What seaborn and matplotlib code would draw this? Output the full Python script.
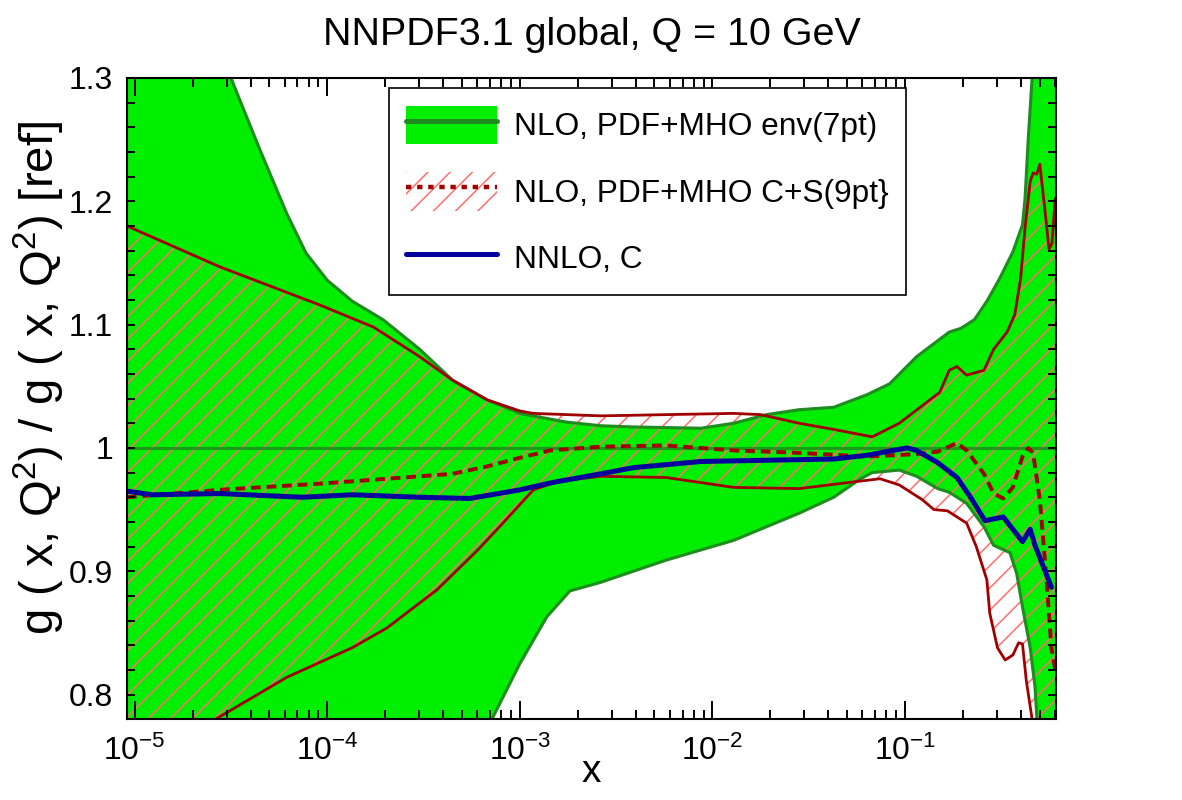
import numpy as np
import matplotlib
matplotlib.use("Agg")
import matplotlib.pyplot as plt
import seaborn as sns
from matplotlib.patches import Patch
from matplotlib.lines import Line2D
from matplotlib.ticker import LogLocator, MultipleLocator, FuncFormatter, NullFormatter

# values (x given as log10(x))
# NLO, PDF+MHO env(7pt) band
lx_env_up = [-5.04, -4.80, -4.60, -4.50, -4.35, -4.21, -4.11, -4.00, -3.87, -3.71, -3.52,
             -3.35, -3.17, -3.00, -2.76, -2.58, -2.41, -2.06, -1.89, -1.72, -1.55, -1.37,
             -1.20, -1.08, -0.94, -0.77, -0.71, -0.64, -0.575, -0.51, -0.44, -0.39, -0.377,
             -0.36, -0.34, -0.30, -0.216]
env_up = [1.50, 1.42, 1.33, 1.30, 1.242, 1.190, 1.158, 1.136, 1.119, 1.104, 1.080,
          1.055, 1.039, 1.028, 1.021, 1.018, 1.017, 1.016, 1.020, 1.027, 1.031, 1.033,
          1.043, 1.052, 1.074, 1.094, 1.097, 1.104, 1.119, 1.137, 1.159, 1.181, 1.202,
          1.251, 1.30, 1.40, 1.50]
lx_env_lo = [-5.04, -4.00, -3.40, -3.145, -3.00, -2.86, -2.74, -2.58, -2.24, -1.89, -1.55,
             -1.37, -1.23, -1.17, -1.03, -0.94, -0.83, -0.77, -0.68, -0.59, -0.54, -0.455,
             -0.42, -0.39, -0.35, -0.325, -0.315, -0.28, -0.216]
env_lo = [0.50, 0.55, 0.70, 0.780, 0.825, 0.863, 0.884, 0.891, 0.909, 0.925, 0.947,
          0.960, 0.975, 0.980, 0.982, 0.977, 0.967, 0.964, 0.955, 0.936, 0.921, 0.915,
          0.898, 0.871, 0.838, 0.806, 0.780, 0.70, 0.60]

# NLO, PDF+MHO C+S(9pt) band and central value
lx_cs_up = [-5.04, -4.56, -4.04, -3.76, -3.52, -3.35, -3.17, -3.00, -2.93, -2.58, -2.24,
            -1.89, -1.75, -1.55, -1.37, -1.17, -1.03, -0.82, -0.77, -0.73, -0.68, -0.59,
            -0.54, -0.47, -0.43, -0.40, -0.377, -0.35, -0.335, -0.316, -0.30, -0.273,
            -0.252, -0.237, -0.22]
cs_up = [1.180, 1.147, 1.116, 1.098, 1.074, 1.055, 1.039, 1.030, 1.028, 1.026, 1.027,
         1.028, 1.027, 1.020, 1.015, 1.009, 1.020, 1.045, 1.063, 1.066, 1.059, 1.063,
         1.080, 1.094, 1.108, 1.137, 1.178, 1.216, 1.223, 1.222, 1.230, 1.192,
         1.161, 1.166, 1.202]
lx_cs_lo = [-5.04, -4.58, -4.21, -3.87, -3.69, -3.43, -3.22, -3.10, -2.93, -2.80, -2.58,
            -2.24, -1.89, -1.55, -1.29, -1.13, -1.03, -0.91, -0.85, -0.78, -0.73, -0.68,
            -0.63, -0.575, -0.56, -0.52, -0.48, -0.44, -0.41, -0.39, -0.37, -0.34, -0.30,
            -0.22]
cs_lo = [0.738, 0.780, 0.814, 0.838, 0.854, 0.885, 0.917, 0.937, 0.966, 0.973, 0.977,
         0.976, 0.968, 0.967, 0.972, 0.975, 0.970, 0.958, 0.950, 0.949, 0.944, 0.939,
         0.920, 0.893, 0.866, 0.838, 0.828, 0.832, 0.842, 0.841, 0.811, 0.780, 0.740,
         0.700]
lx_cs_cv = [-5.04, -4.56, -4.04, -3.69, -3.35, -3.17, -3.00, -2.84, -2.58, -2.24, -1.89,
            -1.55, -1.20, -0.94, -0.83, -0.73, -0.68, -0.59, -0.54, -0.49, -0.44, -0.39,
            -0.36, -0.335, -0.30, -0.265, -0.24, -0.22]
cs_cv = [0.960, 0.966, 0.971, 0.975, 0.979, 0.985, 0.992, 0.998, 1.001, 1.002, 0.998,
         0.996, 0.993, 0.995, 0.997, 1.004, 0.998, 0.979, 0.963, 0.959, 0.968, 0.993,
         1.000, 0.996, 0.958, 0.893, 0.838, 0.820]

# NNLO, C central value
lx_nnlo = [-5.04, -4.91, -4.56, -4.13, -3.87, -3.52, -3.26, -3.00, -2.83, -2.58, -2.41,
           -2.06, -1.72, -1.37, -1.20, -0.99, -0.94, -0.83, -0.73, -0.66, -0.585, -0.49,
           -0.39, -0.35, -0.325, -0.24]
nnlo = [0.965, 0.962, 0.963, 0.960, 0.962, 0.960, 0.959, 0.966, 0.972, 0.979, 0.984,
        0.989, 0.990, 0.991, 0.994, 1.000, 0.998, 0.988, 0.976, 0.960, 0.941, 0.944,
        0.924, 0.934, 0.921, 0.887]

labels = ["NLO, PDF+MHO env(7pt)", "NLO, PDF+MHO C+S(9pt}", "NNLO, C"]

GREEN = "#00ee00"
GREEN_DARK = "#1e8c1e"
RED = "#a00000"
HATCH = "#ff6e6e"
BLUE = "#00009c"

sns.set_theme(style="ticks")
plt.rcParams["font.family"] = ["Liberation Sans", "DejaVu Sans"]
plt.rcParams["mathtext.default"] = "regular"
plt.rcParams["hatch.linewidth"] = 0.55
plt.rcParams["axes.axisbelow"] = False
plt.rcParams["text.color"] = "black"


def xs(lx):
    return np.power(10.0, np.asarray(lx))


fig, ax = plt.subplots(figsize=(5.91, 4.0), dpi=200)
fig.subplots_adjust(left=0.1074, right=0.8934, bottom=0.101, top=0.9025)
ax.set_xscale("log")

# green envelope band
ax.fill(np.concatenate([xs(lx_env_up), xs(lx_env_lo)[::-1]]),
        np.concatenate([env_up, env_lo[::-1]]),
        facecolor=GREEN, edgecolor="none", zorder=1)
# hatched C+S band
ax.fill(np.concatenate([xs(lx_cs_up), xs(lx_cs_lo)[::-1]]),
        np.concatenate([cs_up, cs_lo[::-1]]),
        facecolor="none", edgecolor=HATCH, hatch="///", linewidth=0, zorder=2)

ax.plot(xs(lx_env_up), env_up, color=GREEN_DARK, lw=1.1, zorder=3)
ax.plot(xs(lx_env_lo), env_lo, color=GREEN_DARK, lw=1.1, zorder=3)
ax.axhline(1.0, color=GREEN_DARK, lw=1.1, alpha=0.85, zorder=3)

ax.plot(xs(lx_cs_up), cs_up, color=RED, lw=1.0, zorder=4)
ax.plot(xs(lx_cs_lo), cs_lo, color=RED, lw=1.0, zorder=4)
sns.lineplot(x=xs(lx_cs_cv), y=cs_cv, ax=ax, color=RED, linewidth=1.4,
             linestyle=(0, (2.5, 1.5)), sort=False, estimator=None, zorder=5)
sns.lineplot(x=xs(lx_nnlo), y=nnlo, ax=ax, color=BLUE, linewidth=1.8,
             sort=False, estimator=None, zorder=6)

ax.set_xlim(10 ** -5.04, 10 ** -0.216)
ax.set_ylim(0.78, 1.3)

ax.xaxis.set_major_locator(LogLocator(base=10, numticks=10))
ax.xaxis.set_minor_locator(LogLocator(base=10, subs=np.arange(2, 10), numticks=20))
ax.xaxis.set_minor_formatter(NullFormatter())
ax.yaxis.set_major_locator(MultipleLocator(0.1))
ax.yaxis.set_minor_locator(MultipleLocator(0.02))
ax.yaxis.set_major_formatter(FuncFormatter(lambda v, p: f"{v:g}"))

ax.tick_params(which="both", direction="in", top=True, right=True, bottom=True, left=True,
               width=0.7, color="black", labelcolor="black")
ax.tick_params(axis="x", which="major", length=6.5, pad=6, labelsize=11.5)
ax.tick_params(axis="x", which="minor", length=3.2)
ax.tick_params(axis="y", which="both", length=3.0)
ax.tick_params(axis="y", which="major", pad=5, labelsize=11.5)
ax.xaxis.set_zorder(7)
ax.yaxis.set_zorder(7)
for s in ax.spines.values():
    s.set_linewidth(0.75)
    s.set_color("black")
    s.set_zorder(8)

ax.set_xlabel("x", fontsize=14, color="black")
ax.xaxis.set_label_coords(0.5, -0.083)
ax.xaxis.label.set_va("center")
ax.set_ylabel("g ( x, Q$^2$) / g ( x, Q$^2$) [ref]", fontsize=17, color="black")
ax.yaxis.set_label_coords(-0.094, 0.532)
ax.yaxis.label.set_va("center")

fig.text(0.5004, 1 - 35 / 800, "NNPDF3.1 global, Q = 10 GeV", ha="center", va="center",
         fontsize=14.2, color="black")

handles = [
    (Patch(facecolor=GREEN, edgecolor="none"), Line2D([], [], color=GREEN_DARK, lw=1.8)),
    (Patch(facecolor="white", edgecolor=HATCH, hatch="///", linewidth=0),
     Line2D([], [], color=RED, lw=1.6, linestyle=(0, (1.2, 1.3)))),
    Line2D([], [], color=BLUE, lw=1.8),
]
leg = ax.legend(handles, labels, loc="upper left", bbox_to_anchor=(0.282, 0.984),
                frameon=True, fancybox=False, framealpha=1, edgecolor="black",
                fontsize=11.4, handlelength=2.85, handleheight=1.5, handletextpad=0.55,
                labelspacing=0.88, borderpad=0.55, borderaxespad=0)
leg.get_frame().set_linewidth(0.6)
leg.set_zorder(9)
for t in leg.get_texts():
    t.set_color("black")

fig.savefig("out.png", dpi=200)
